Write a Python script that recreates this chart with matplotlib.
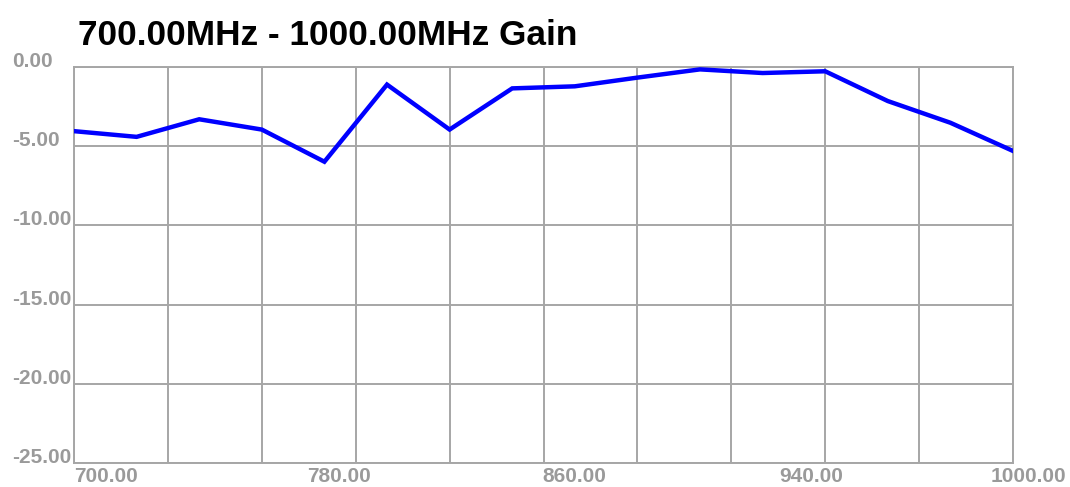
import numpy as np
import matplotlib
matplotlib.use('Agg')
import matplotlib.pyplot as plt
import matplotlib.transforms as mtransforms
#%% data
freq = [700, 720, 740, 760, 780, 800, 820, 840, 860, 880, 900, 920, 940, 960, 980, 1000]
gain = [-4.05, -4.41, -3.30, -3.95, -5.98, -1.11, -3.95, -1.35, -1.22, -0.67,
        -0.15, -0.38, -0.27, -2.15, -3.52, -5.30]
grid_x = [700, 730, 760, 790, 820, 850, 880, 910, 940, 970, 1000]
grid_y = [0, -5, -10, -15, -20, -25]
xlabel_vals = [700, 780, 860, 940, 1000]
title = '700.00MHz - 1000.00MHz Gain'
#%%
plt.rcParams['font.family'] = ['Liberation Sans', 'DejaVu Sans']
grey = '#a6a6a6'
txt_grey = '#9a9a9a'

fig = plt.figure(figsize=(10.7, 4.87), dpi=100)
ax = fig.add_axes([74/1070, 24/487, 939/1070, 396/487])

ax.plot(freq, gain, color='#0000ff', lw=3.2, solid_joinstyle='miter', zorder=3)

ax.set_xlim(700, 1000)
ax.set_ylim(-25, 0)
ax.set_xticks(grid_x)
ax.set_xticklabels([])
ax.set_yticks(grid_y)
ax.set_yticklabels(['%.2f' % v for v in grid_y])
ax.grid(True, color=grey, lw=1.4)
for s in ax.spines.values():
    s.set_color(grey)
    s.set_linewidth(1.4)
ax.tick_params(axis='both', which='both', length=0)
ax.tick_params(axis='y', pad=44.5, labelsize=15, labelcolor=txt_grey)
for lab in ax.get_yticklabels():
    lab.set_ha('left')
    lab.set_va('baseline')
    lab.set_fontweight('bold')

# x labels sit on minor ticks, nudged like the original chart
ax.xaxis.remove_overlapping_locs = False
ax.set_xticks(xlabel_vals, minor=True)
ax.set_xticklabels(['%.2f' % v for v in xlabel_vals], minor=True)
ax.tick_params(axis='x', which='minor', pad=3, labelsize=15, labelcolor=txt_grey)
shift_px = [0, 15, 0, -14, 15]
for lab, dx in zip(ax.get_xticklabels(minor=True), shift_px):
    lab.set_fontweight('bold')
    lab.set_transform(lab.get_transform() + mtransforms.ScaledTranslation(dx/100, 0, fig.dpi_scale_trans))
ax.get_xticklabels(minor=True)[0].set_ha('left')

fig.text(78/1070, (487-45)/487, title, fontsize=25.4, fontweight='bold',
         color='black', ha='left', va='baseline')

fig.savefig('out.png', dpi=100)
